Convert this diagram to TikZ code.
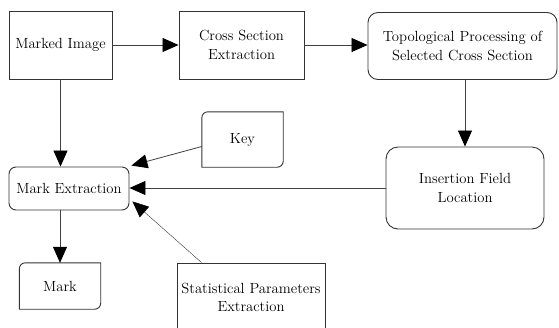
\documentclass[tikz,border=0pt]{standalone}
\usepackage{tikz}
\usetikzlibrary{arrows.meta}

\begin{document}
\begin{tikzpicture}[x=1pt,y=1pt,
            font=\fontsize{14.7}{18.5}\selectfont,
            box/.style={shape=rectangle, draw=black!80, line width=0.9pt, align=center, inner sep=0pt},
            rbox/.style={box, rounded corners=10pt},
            plain/.style={shape=rectangle, align=center, inner sep=0pt},
            arr/.style={draw=black!75, line width=0.8pt, -{Triangle[length=16pt,width=14pt,color=black]}},
            thinarr/.style={arr, line width=0.45pt}]
        \useasboundingbox (0,0) rectangle (559,-327);

        \node[box, minimum width=103pt, minimum height=68pt] (img) at (60.5,-45) {Marked Image};
        \node[box, minimum width=125pt, minimum height=68pt] (cross) at (241.5,-45) {Cross Section\\Extraction};
        \node[rbox, minimum width=189pt, minimum height=67pt] (topo) at (462.5,-46) {Topological Processing of\\Selected Cross Section};
        \node[rbox, rounded corners=12pt, minimum width=158pt, minimum height=82pt] (insert) at (465,-188) {Insertion Field\\Location};
        \node[rbox, rounded corners=7pt, minimum width=120pt, minimum height=43pt] (markex) at (69,-188.5) {Mark Extraction};

        % boxes with two rounded corners
        \node[plain, minimum width=81pt, minimum height=55pt] (key) at (242.5,-139.5) {Key};
        \draw[draw=black!80, line width=0.9pt] (key.north east) -- ([xshift=6pt]key.north west) arc[start angle=90,end angle=180,radius=6pt]
            -- (key.south west) -- ([xshift=-6pt]key.south east) arc[start angle=-90,end angle=0,radius=6pt] -- cycle;
        \node[plain, minimum width=81pt, minimum height=46pt] (mark) at (60,-286) {Mark};
        \draw[draw=black!80, line width=0.9pt] (mark.north east) -- ([xshift=6pt]mark.north west) arc[start angle=90,end angle=180,radius=6pt]
            -- (mark.south west) -- ([xshift=-6pt]mark.south east) arc[start angle=-90,end angle=0,radius=6pt] -- cycle;

        \node[box, minimum width=148pt, minimum height=69pt] (stat) at (251,-297.5) {Statistical Parameters\\Extraction};

        \draw[arr] (img.east) -- (cross.west);
        \draw[arr] (cross.east) -- (cross.east -| topo.west);
        \draw[arr] (topo.south -| insert.north) -- (insert.north);
        \draw[arr] (insert.west) -- (insert.west -| markex.east);
        \draw[arr] (img.south) -- (img.south |- markex.north);
        \draw[arr] (markex.south -| mark.north) -- (mark.north);
        \draw[arr] ([yshift=-7pt]key.west) -- ([shift={(2pt,1pt)}]markex.north east);
        \draw[thinarr] ([xshift=25pt]stat.north west) -- ([shift={(3pt,9pt)}]markex.south east);
    \end{tikzpicture}
\end{document}
